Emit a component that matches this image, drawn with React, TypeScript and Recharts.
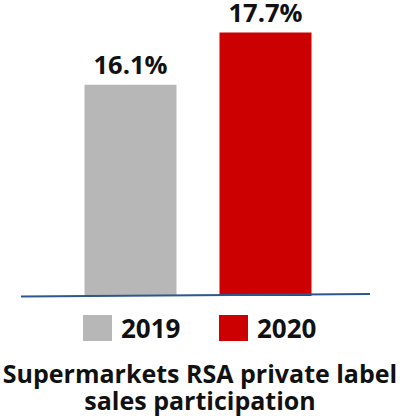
import { BarChart, Bar, XAxis, YAxis, Cell, LabelList } from "recharts";

const years = ["2019", "2020"];
const participation = [16.1, 17.7];
const colors = ["#b7b7b7", "#cc0000"];

const data = years.map((year, i) => ({ year, value: participation[i] }));

const font = "'Open Sans', sans-serif";

export default function App() {
  return (
    <div
      style={{
        position: "absolute",
        left: 0,
        top: 0,
        width: 406,
        height: 418,
        background: "#fff",
        fontFamily: font,
      }}
    >
      <BarChart
        width={406}
        height={296}
        data={data}
        margin={{ top: 30, right: 73.5, left: 62.5, bottom: 0 }}
        style={{ overflow: "visible" }}
      >
        <XAxis dataKey="year" hide />
        <YAxis hide domain={[9.6, 17.78]} allowDataOverflow />
        <Bar dataKey="value" barSize={92} isAnimationActive={false}>
          {data.map((d, i) => (
            <Cell key={d.year} fill={colors[i]} />
          ))}
          <LabelList
            dataKey="value"
            position="top"
            offset={11}
            formatter={(v: number) => `${v.toFixed(1)}%`}
            style={{ fill: "#111", fontWeight: 700, fontSize: 25.5, fontFamily: font }}
          />
        </Bar>
      </BarChart>
      <svg
        width={406}
        height={20}
        style={{ position: "absolute", left: 0, top: 286 }}
      >
        <line x1={21} y1={10.5} x2={370} y2={8} stroke="#2e5690" strokeWidth={2} />
      </svg>
      <div style={{ position: "absolute", top: 312, left: 0, width: 406, height: 32 }}>
        {years.map((y, i) => (
          <div
            key={y}
            style={{
              position: "absolute",
              left: i === 0 ? 83 : 219,
              top: 3,
              display: "flex",
              alignItems: "center",
            }}
          >
            <div style={{ width: 29, height: 26, background: colors[i] }} />
            <span
              style={{
                marginLeft: 9,
                fontSize: 26,
                fontWeight: 700,
                color: "#111",
                lineHeight: "26px",
              }}
            >
              {y}
            </span>
          </div>
        ))}
      </div>
      <div
        style={{
          position: "absolute",
          top: 360,
          left: 0,
          width: 400,
          textAlign: "center",
          fontSize: 25,
          fontWeight: 700,
          color: "#111",
          lineHeight: "27px",
        }}
      >
        Supermarkets RSA private label
        <br />
        sales participation
      </div>
    </div>
  );
}
